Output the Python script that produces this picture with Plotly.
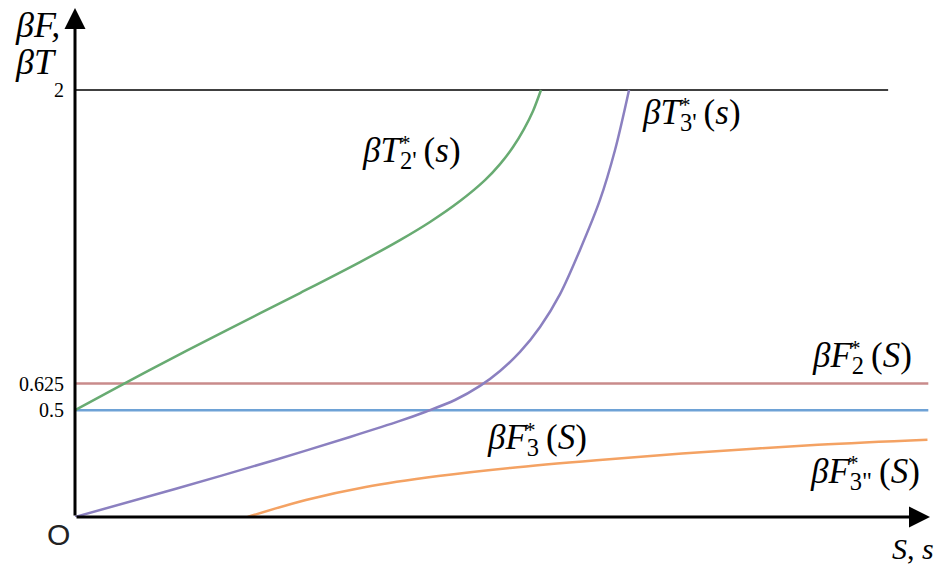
import plotly.graph_objects as go

# Curve readings (S or s on the horizontal axis, beta*F / beta*T on the vertical)
s_t2 = [0.0, 0.877, 1.754, 2.632, 3.333, 3.801, 4.152, 4.503, 4.795, 4.971, 5.123,
        5.251, 5.357, 5.450]
t2_vals = [0.5, 0.689, 0.871, 1.049, 1.194, 1.297, 1.382, 1.480, 1.578, 1.653, 1.733,
           1.817, 1.902, 2.0]

s_t3 = [0.0, 1.170, 2.339, 3.216, 3.801, 4.094, 4.444, 4.737, 4.971, 5.205, 5.439,
        5.673, 5.906, 6.140, 6.316, 6.480]
t3_vals = [0.0, 0.131, 0.267, 0.375, 0.450, 0.492, 0.548, 0.614, 0.684, 0.773, 0.890,
           1.044, 1.251, 1.485, 1.719, 2.0]

s_f3pp = [2.02, 2.70, 3.40, 4.25, 5.09, 6.10, 7.10, 8.69, 9.97]
f3pp_vals = [0.0, 0.080, 0.141, 0.192, 0.230, 0.266, 0.297, 0.338, 0.362]

f2_level = 0.625
f3_level = 0.5
top_level = 2.0
s_end = 9.98
s_top_end = 9.51

tick_vals = [0.5, 0.625, 2.0]
tick_text = ["0.5", "0.625", "2"]

GREEN = "#68ab72"
PURPLE = "#8b80c0"
ORANGE = "#f4a263"
RED = "#c98b8b"
BLUE = "#6ea2d6"
SERIF = "Liberation Serif"
THIN = "\u2009"

fig = go.Figure()

fig.add_trace(go.Scatter(x=[0, s_top_end], y=[top_level, top_level], mode="lines",
                         line=dict(color="black", width=1.3)))
fig.add_trace(go.Scatter(x=[0, s_end], y=[f2_level, f2_level], mode="lines",
                         line=dict(color=RED, width=2.5)))
fig.add_trace(go.Scatter(x=[0, s_end], y=[f3_level, f3_level], mode="lines",
                         line=dict(color=BLUE, width=2.5)))
fig.add_trace(go.Scatter(x=s_t2, y=t2_vals, mode="lines",
                         line=dict(color=GREEN, width=2.5, shape="spline", smoothing=0.9)))
fig.add_trace(go.Scatter(x=s_t3, y=t3_vals, mode="lines",
                         line=dict(color=PURPLE, width=2.5, shape="spline", smoothing=0.9)))
fig.add_trace(go.Scatter(x=s_f3pp, y=f3pp_vals, mode="lines",
                         line=dict(color=ORANGE, width=2.5, shape="spline", smoothing=1.0)))

# Axis arrows
fig.add_annotation(x=10.0, y=0, ax=0, ay=0, axref="x", ayref="y", xref="x", yref="y",
                   text="", showarrow=True, arrowhead=2, arrowsize=1.4, arrowwidth=3,
                   arrowcolor="black")
fig.add_annotation(x=0, y=2.384, ax=0, ay=0, axref="x", ayref="y", xref="x", yref="y",
                   text="", showarrow=True, arrowhead=2, arrowsize=1.4, arrowwidth=3,
                   arrowcolor="black")


def add_label(x, y, letter, sub, arg, star_dx=38, star_dy=10):
    fig.add_annotation(x=x, y=y, xanchor="left", yanchor="middle", showarrow=False,
                       text=f"<i>β{letter}</i><sub>{sub}</sub>{THIN}(<i>{arg}</i>)",
                       font=dict(family=SERIF, size=35, color="black"))
    fig.add_annotation(x=x, y=y, xanchor="left", yanchor="middle", showarrow=False,
                       xshift=star_dx, yshift=star_dy, text="*",
                       font=dict(family=SERIF, size=21, color="black"))


add_label(3.33, 1.705, "T", "2'", "s")
add_label(6.61, 1.883, "T", "3'", "s")
add_label(8.60, 0.745, "F", "2", "S")
add_label(4.80, 0.361, "F", "3", "S")
add_label(8.57, 0.206, "F", "3\"", "S")

# Axis titles and origin mark (positioned relative to the plotting area)
fig.add_annotation(x=-0.0718, y=0.952, xref="paper", yref="paper", xanchor="left",
                   yanchor="middle", showarrow=False, text="<i>βF,</i>",
                   font=dict(family=SERIF, size=36, color="black"))
fig.add_annotation(x=-0.0718, y=0.880, xref="paper", yref="paper", xanchor="left",
                   yanchor="middle", showarrow=False, text="<i>βT</i>",
                   font=dict(family=SERIF, size=36, color="black"))
fig.add_annotation(x=0.943, y=-0.060, xref="paper", yref="paper", xanchor="left",
                   yanchor="middle", showarrow=False, text="<i>S</i>, <i>s</i>",
                   font=dict(family=SERIF, size=30, color="black"))
fig.add_annotation(x=-0.0191, y=-0.0329, xref="paper", yref="paper", xanchor="center",
                   yanchor="middle", showarrow=False, text="O",
                   font=dict(family="Liberation Sans", size=30, color="#222222"))

fig.update_layout(
    width=939, height=569,
    margin=dict(l=75, r=0, t=0, b=52),
    paper_bgcolor="white", plot_bgcolor="white",
    showlegend=False,
    xaxis=dict(range=[0, 10.105], visible=False, fixedrange=True),
    yaxis=dict(range=[0, 2.4215], showgrid=False, zeroline=False, showline=False,
               tickmode="array", tickvals=tick_vals, ticktext=tick_text, ticks="",
               ticklabelstandoff=10,
               tickfont=dict(family=SERIF, size=20, color="black"), fixedrange=True),
)

fig.write_html("out.html")
